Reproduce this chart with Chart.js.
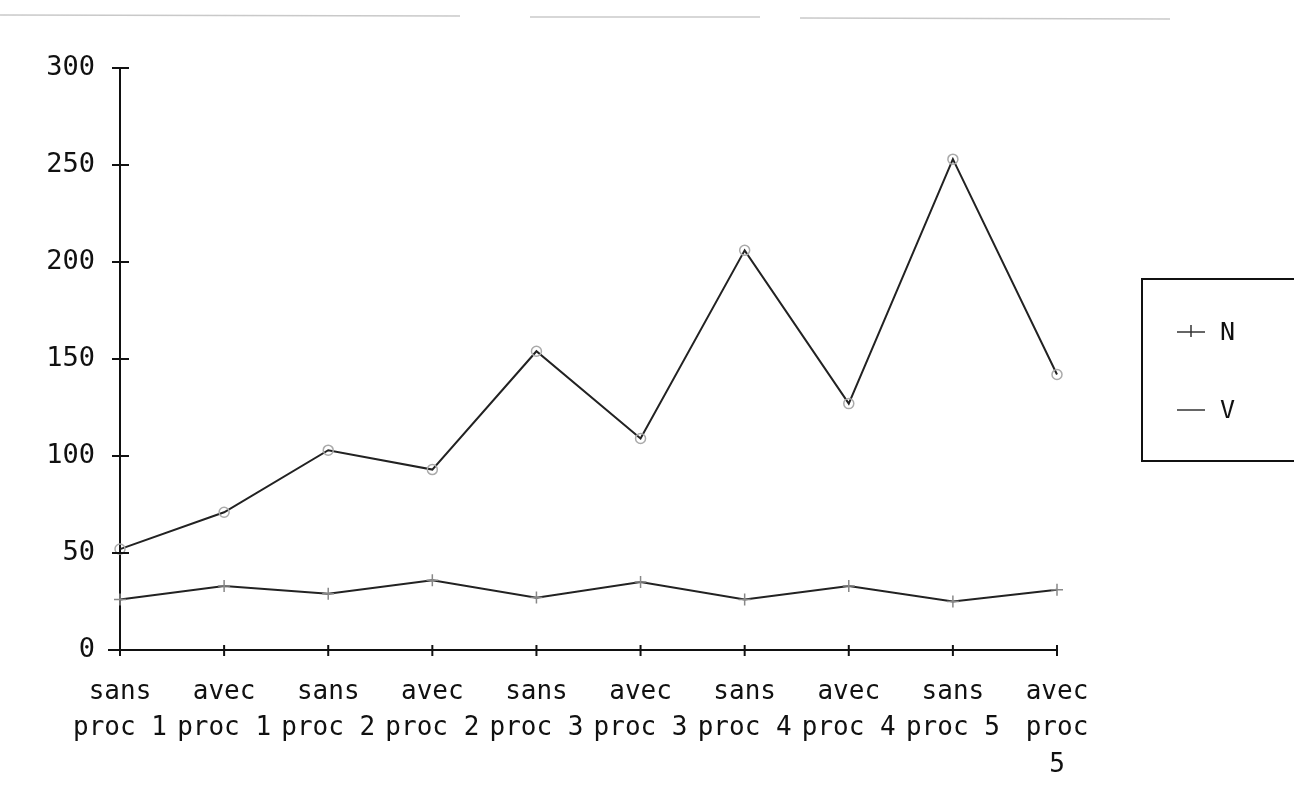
<!DOCTYPE html>
<html>
<head>
<meta charset="utf-8">
<script src="https://cdn.jsdelivr.net/npm/chart.js@4.4.0/dist/chart.umd.min.js"></script>
<style>
  html, body { margin: 0; padding: 0; background: #fff; }
  #wrap { width: 1294px; height: 800px; position: relative; }
</style>
</head>
<body>
<div id="wrap"><canvas id="lineChart" width="1294" height="800"></canvas></div>
<script>
const categories = [
  ['sans', 'proc 1'], ['avec', 'proc 1'], ['sans', 'proc 2'], ['avec', 'proc 2'],
  ['sans', 'proc 3'], ['avec', 'proc 3'], ['sans', 'proc 4'], ['avec', 'proc 4'],
  ['sans', 'proc 5'], ['avec', 'proc', '5']
];
const seriesN = [26, 33, 29, 36, 27, 35, 26, 33, 25, 31];
const seriesV = [52, 71, 103, 93, 154, 109, 206, 127, 253, 142];
const yTicks = [0, 50, 100, 150, 200, 250, 300];

const FONT = "'DejaVu Sans Mono', monospace";

// tick marks that cross the axes, like the old plot
const crossTicks = {
  id: 'crossTicks',
  afterDraw(chart) {
    const ctx = chart.ctx;
    const x = chart.scales.x, y = chart.scales.y;
    const a = chart.chartArea;
    ctx.save();
    ctx.strokeStyle = '#111';
    ctx.lineWidth = 2;
    y.ticks.forEach((t, i) => {
      const py = y.getPixelForTick(i);
      ctx.beginPath();
      ctx.moveTo(a.left - 8, py);
      ctx.lineTo(a.left + 9, py);
      ctx.stroke();
    });
    x.ticks.forEach((t, i) => {
      const px = x.getPixelForTick(i);
      ctx.beginPath();
      ctx.moveTo(px, a.bottom - 5);
      ctx.lineTo(px, a.bottom + 6);
      ctx.stroke();
    });
    // x axis starts a little left of the y axis
    ctx.beginPath();
    ctx.moveTo(a.left - 12, a.bottom);
    ctx.lineTo(a.left, a.bottom);
    ctx.stroke();
    // faint scan line at the top
    ctx.strokeStyle = 'rgba(120,120,120,0.4)';
    ctx.lineWidth = 1.5;
    ctx.beginPath();
    ctx.moveTo(0, 15); ctx.lineTo(460, 16);
    ctx.moveTo(530, 17); ctx.lineTo(760, 17);
    ctx.moveTo(800, 18); ctx.lineTo(1170, 19);
    ctx.stroke();
    ctx.restore();
  }
};

// boxed legend on the right
const boxLegend = {
  id: 'boxLegend',
  afterDraw(chart) {
    const ctx = chart.ctx;
    ctx.save();
    ctx.strokeStyle = '#111';
    ctx.lineWidth = 2;
    ctx.strokeRect(1142, 279, 160, 182);
    const rows = [332, 410];
    chart.data.datasets.forEach((ds, i) => {
      const yy = rows[i];
      ctx.strokeStyle = '#333';
      ctx.lineWidth = 1.5;
      ctx.beginPath();
      ctx.moveTo(1177, yy); ctx.lineTo(1205, yy);
      ctx.stroke();
      if (ds.pointStyle === 'cross') {
        ctx.beginPath();
        ctx.moveTo(1191, yy - 7); ctx.lineTo(1191, yy + 5);
        ctx.stroke();
      }
      ctx.fillStyle = '#111';
      ctx.font = '25px ' + FONT;
      ctx.textBaseline = 'middle';
      ctx.fillText(ds.label, 1220, yy + 1);
    });
    ctx.restore();
  }
};

new Chart(document.getElementById('lineChart').getContext('2d'), {
  type: 'line',
  data: {
    labels: categories,
    datasets: [{
      label: 'N',
      data: seriesN,
      borderColor: '#222',
      borderWidth: 2,
      pointStyle: 'cross',
      pointRadius: 6,
      pointBorderColor: '#888',
      pointBorderWidth: 1.5,
      tension: 0
    }, {
      label: 'V',
      data: seriesV,
      borderColor: '#222',
      borderWidth: 2,
      pointStyle: 'circle',
      pointRadius: 5,
      pointBackgroundColor: 'rgba(255,255,255,0)',
      pointBorderColor: '#aaa',
      pointBorderWidth: 1.5,
      tension: 0
    }]
  },
  options: {
    responsive: false,
    animation: false,
    layout: { padding: { left: 0, right: 237, top: 68, bottom: 0 } },
    plugins: { legend: { display: false }, tooltip: { enabled: false } },
    scales: {
      x: {
        offset: false,
        grid: { display: false, drawTicks: false },
        border: { display: true, color: '#111', width: 2 },
        ticks: {
          color: '#111',
          font: { family: FONT, size: 26, lineHeight: 1.4 },
          padding: 24,
          maxRotation: 0,
          autoSkip: false
        },
        afterFit(scale) { scale.height = 150; }
      },
      y: {
        min: 0,
        max: 300,
        afterBuildTicks(scale) { scale.ticks = yTicks.map(v => ({ value: v })); },
        grid: { display: false, drawTicks: false },
        border: { display: true, color: '#111', width: 2 },
        ticks: {
          color: '#111',
          font: { family: FONT, size: 27 },
          padding: 25
        },
        afterFit(scale) { scale.width = 120; }
      }
    }
  },
  plugins: [crossTicks, boxLegend]
});
</script>
</body>
</html>
